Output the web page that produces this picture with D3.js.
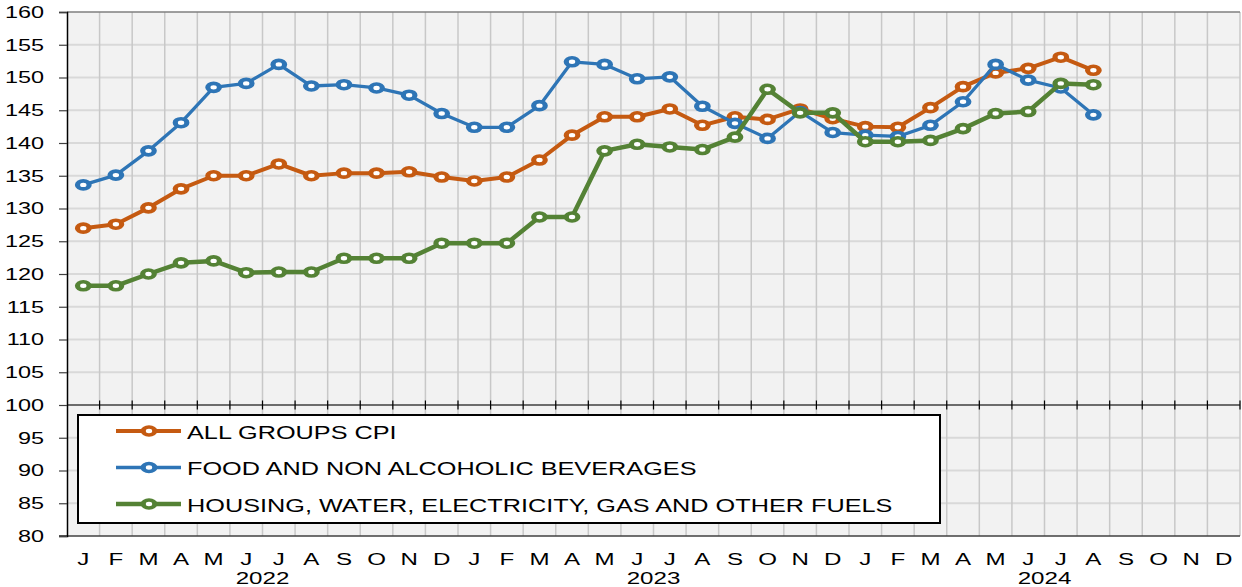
<!DOCTYPE html>
<html lang="en">
  <head>
    <meta charset="UTF-8" />
    <script src="https://d3js.org/d3.v7.min.js"></script>
    <title>CPI</title>
    <style>
      body { margin: 0; background: #fff; }
      text { font-family: 'Liberation Sans', Arial, sans-serif; fill: #000; }
    </style>
  </head>
  <body>
    <div id="chart"></div>
    <script>
      // months Jan 2022 .. Dec 2024
      const monthLabels = ['J', 'F', 'M', 'A', 'M', 'J', 'J', 'A', 'S', 'O', 'N', 'D']
      const years = ['2022', '2023', '2024']
      const yTicks = [80, 85, 90, 95, 100, 105, 110, 115, 120, 125, 130, 135, 140, 145, 150, 155, 160]

      const allGroups = [127.0, 127.6, 130.1, 133.0, 135.0, 135.0, 136.8, 135.0, 135.4, 135.4, 135.6, 134.8,
        134.2, 134.8, 137.4, 141.2, 144.0, 144.0, 145.2, 142.7, 144.0, 143.6, 145.2, 143.7,
        142.5, 142.4, 145.4, 148.6, 150.7, 151.4, 153.1, 151.1]
      const food = [133.6, 135.1, 138.8, 143.1, 148.5, 149.1, 152.0, 148.7, 148.9, 148.4, 147.3, 144.5,
        142.4, 142.4, 145.7, 152.4, 152.0, 149.8, 150.1, 145.6, 143.0, 140.7, 144.8, 141.6,
        141.2, 141.0, 142.7, 146.3, 152.0, 149.6, 148.4, 144.3]
      const housing = [118.2, 118.2, 120.0, 121.7, 122.0, 120.2, 120.3, 120.3, 122.4, 122.4, 122.4, 124.7,
        124.7, 124.7, 128.7, 128.7, 138.8, 139.8, 139.4, 139.0, 140.9, 148.2, 144.6, 144.6,
        140.2, 140.2, 140.4, 142.2, 144.5, 144.8, 149.1, 148.9]

      const seriesNames = ['ALL GROUPS CPI', 'FOOD AND NON ALCOHOLIC BEVERAGES',
        'HOUSING, WATER, ELECTRICITY, GAS AND OTHER FUELS']
      const seriesColors = ['#c55a11', '#2e75b6', '#548235']
      const seriesWidths = [4, 3.3, 4.5]

      const series = [allGroups, food, housing].map((values, i) => ({
        name: seriesNames[i], color: seriesColors[i], width: seriesWidths[i], values
      }))

      const width = 1242, height = 587
      const plotLeft = 67, plotRight = 1240, plotTop = 12, plotBottom = 536
      const SX = 1.42 // the source picture is stretched horizontally

      const svg = d3.select('#chart').append('svg')
        .attr('width', width).attr('height', height)

      const months = d3.range(years.length * 12)
      const x = d3.scaleBand().domain(months).range([plotLeft, plotRight])
      const cx = i => x(i) + x.bandwidth() / 2
      const y = d3.scaleLinear().domain([80, 160]).range([plotBottom, plotTop])

      // plot background
      svg.append('rect')
        .attr('x', plotLeft).attr('y', plotTop)
        .attr('width', plotRight - plotLeft).attr('height', plotBottom - plotTop)
        .attr('fill', '#f2f2f2')

      // horizontal gridlines
      svg.append('g').selectAll('line')
        .data(yTicks.filter(d => d > 80 && d < 160))
        .join('line')
        .attr('x1', plotLeft).attr('x2', plotRight)
        .attr('y1', d => y(d)).attr('y2', d => y(d))
        .attr('stroke', '#d9d9d9').attr('stroke-width', 2)

      // vertical gridlines at month boundaries
      const bounds = months.slice(1).concat([months.length])
      svg.append('g').selectAll('line')
        .data(bounds)
        .join('line')
        .attr('x1', d => plotLeft + d * x.bandwidth()).attr('x2', d => plotLeft + d * x.bandwidth())
        .attr('y1', plotTop).attr('y2', plotBottom)
        .attr('stroke', '#c8c8c8').attr('stroke-width', 1.5)

      // frame
      svg.append('line')
        .attr('x1', plotLeft).attr('x2', plotRight).attr('y1', plotTop).attr('y2', plotTop)
        .attr('stroke', '#7f7f7f').attr('stroke-width', 1.5)
      svg.append('line')
        .attr('x1', plotLeft - 8).attr('x2', plotRight).attr('y1', plotBottom).attr('y2', plotBottom)
        .attr('stroke', '#404040').attr('stroke-width', 1.5)

      // y axis
      const yAxis = svg.append('g')
        .attr('transform', `translate(${plotLeft}, 0)`)
        .call(d3.axisLeft(y).tickValues(yTicks).tickSize(8).tickPadding(0).tickFormat(d3.format('d')))
      yAxis.select('.domain').attr('stroke', '#000').attr('stroke-width', 1.5)
      yAxis.selectAll('.tick line').attr('stroke', '#404040').attr('stroke-width', 1.2)
      yAxis.selectAll('.tick text').remove()
      svg.append('g').selectAll('text')
        .data(yTicks)
        .join('text')
        .attr('transform', d => `translate(44, ${y(d) + 5.8}) scale(${SX}, 1)`)
        .attr('text-anchor', 'end')
        .style('font-size', '16.5px')
        .text(d => d)

      // x axis line at 100 with ticks on month boundaries
      const y100 = y(100)
      svg.append('line')
        .attr('x1', plotLeft).attr('x2', plotRight).attr('y1', y100).attr('y2', y100)
        .attr('stroke', '#000').attr('stroke-width', 1.2)
      svg.append('g').selectAll('line')
        .data(bounds)
        .join('line')
        .attr('x1', d => plotLeft + d * x.bandwidth()).attr('x2', d => plotLeft + d * x.bandwidth())
        .attr('y1', y100 - 4.5).attr('y2', y100 + 4.5)
        .attr('stroke', '#000').attr('stroke-width', 1.2)

      // month labels
      svg.append('g').selectAll('text')
        .data(months)
        .join('text')
        .attr('transform', d => `translate(${cx(d)}, 565) scale(${SX}, 1)`)
        .attr('text-anchor', 'middle')
        .style('font-size', '17px')
        .text(d => monthLabels[d % 12])

      // year labels, centred between June and July
      svg.append('g').selectAll('text')
        .data(years)
        .join('text')
        .attr('transform', (d, i) => `translate(${plotLeft + (i * 12 + 6) * x.bandwidth()}, 584) scale(${SX}, 1)`)
        .attr('text-anchor', 'middle')
        .style('font-size', '17px')
        .text(d => d)

      // lines + markers
      const line = d3.line().x((d, i) => cx(i)).y(d => y(d))

      series.forEach(s => {
        const g = svg.append('g')
        g.append('path')
          .datum(s.values)
          .attr('d', line)
          .attr('fill', 'none')
          .attr('stroke', s.color)
          .attr('stroke-width', s.width)
          .attr('stroke-linejoin', 'round')
        g.selectAll('circle')
          .data(s.values)
          .join('circle')
          .attr('transform', (d, i) => `translate(${cx(i)}, ${y(d)}) scale(1.45, 1)`)
          .attr('r', 4)
          .attr('fill', '#fff')
          .attr('stroke', s.color)
          .attr('stroke-width', 3.6)
      })

      // legend
      const legend = svg.append('g')
      legend.append('rect')
        .attr('x', 78).attr('y', 415)
        .attr('width', 862).attr('height', 108)
        .attr('fill', '#fff')
        .attr('stroke', '#000').attr('stroke-width', 2)

      const items = legend.selectAll('g.item')
        .data(series)
        .join('g')
        .attr('class', 'item')
        .attr('transform', (d, i) => `translate(0, ${431 + i * 36.5})`)
      items.append('line')
        .attr('x1', 116).attr('x2', 181).attr('y1', 0).attr('y2', 0)
        .attr('stroke', d => d.color)
        .attr('stroke-width', d => d.width)
      items.append('circle')
        .attr('transform', `translate(149, 0) scale(1.45, 1)`)
        .attr('r', 4)
        .attr('fill', '#fff')
        .attr('stroke', d => d.color)
        .attr('stroke-width', 3.6)
      items.append('text')
        .attr('transform', `translate(187, 7.5) scale(${SX}, 1)`)
        .style('font-size', '17.8px')
        .text(d => d.name)
    </script>
  </body>
</html>
